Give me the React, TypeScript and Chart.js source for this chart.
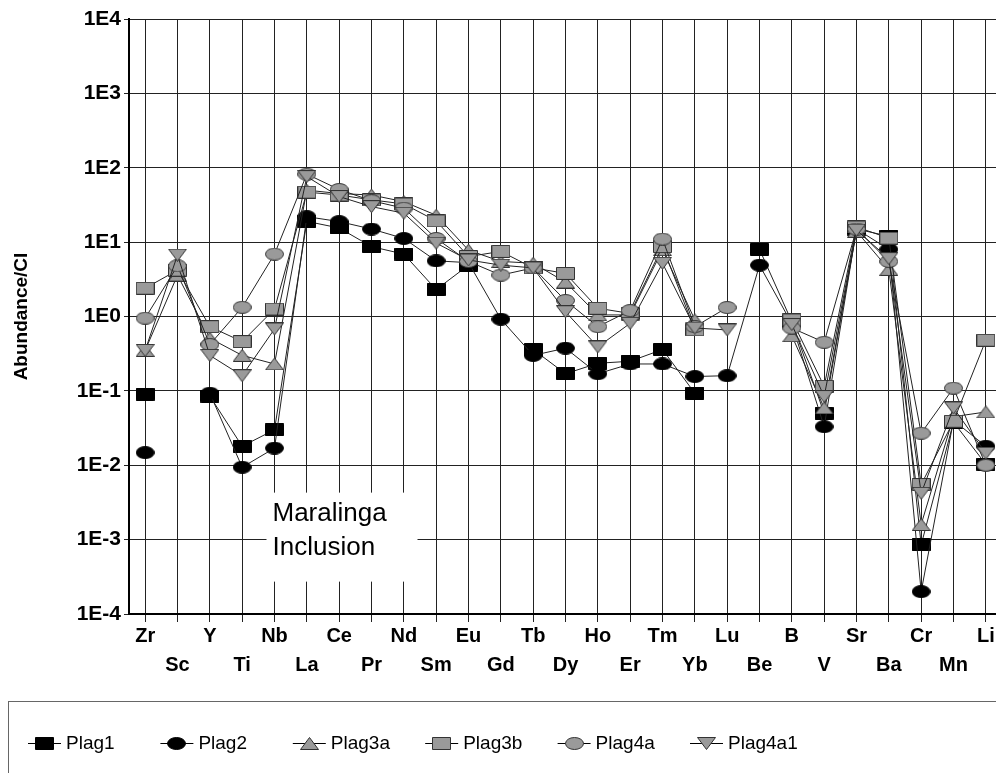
import React, { useEffect, useRef } from 'react';
import { Chart, registerables } from 'chart.js';

Chart.register(...registerables);

// Element order along the x axis
const elements = [
  'Zr', 'Sc', 'Y', 'Ti', 'Nb', 'La', 'Ce', 'Pr', 'Nd', 'Sm', 'Eu', 'Gd', 'Tb', 'Dy',
  'Ho', 'Er', 'Tm', 'Yb', 'Lu', 'Be', 'B', 'V', 'Sr', 'Ba', 'Cr', 'Mn', 'Li',
];

// CI-normalised abundances per plagioclase analysis (null = not determined)
const plag1 = [0.09, null, 0.085, 0.018, 0.03, 19, 15.5, 8.7, 6.9, 2.3, 4.9, null, 0.36, 0.17,
  0.235, 0.25, 0.36, 0.093, null, 8.0, 0.85, 0.05, 15, 12, 0.00085, 0.038, 0.0103];
const plag2 = [0.0148, null, 0.093, 0.0094, 0.017, 22, 18.9, 15, 11.2, 5.6, 5.3, 0.92, 0.3, 0.375,
  0.17, 0.23, 0.23, 0.156, 0.16, 4.9, 0.8, 0.033, 15, 8, 0.0002, 0.04, 0.018];
const plag3a = [0.35, 3.6, 0.51, 0.3, 0.23, 50, 45, 43, 35, 23, 7.8, 5.5, 5.2, 2.9,
  1.05, 1.05, 7.9, 0.9, null, null, 0.55, 0.059, 14, 4.3, 0.0016, 0.045, 0.052];
const plag3b = [2.4, 4.2, 0.73, 0.46, 1.26, 47, 43, 37, 32.6, 19.3, 6.4, 7.5, 4.5, 3.8,
  1.29, 1.1, 8.7, 0.66, null, null, 0.9, 0.115, 16, 11.3, 0.0055, 0.039, 0.48];
const plag4a = [0.95, 4.8, 0.42, 1.33, 6.9, 82, 51, 36, 28.6, 11.2, 5.5, 3.6, 4.5, 1.64,
  0.73, 1.2, 11, 0.73, 1.32, null, 0.7, 0.45, 15, 5.5, 0.027, 0.109, 0.01];
const plag4a1 = [0.35, 6.7, 0.3, 0.16, 0.68, 76, 41, 30, 24.5, 9.7, 5.75, 4.9, 4.5, 1.16,
  0.39, 0.81, 5.2, 0.7, 0.66, null, 0.78, 0.084, 14.5, 6.0, 0.0042, 0.059, 0.0145];

const seriesNames = ['Plag1', 'Plag2', 'Plag3a', 'Plag3b', 'Plag4a', 'Plag4a1'];
const seriesValues = [plag1, plag2, plag3a, plag3b, plag4a, plag4a1];
const seriesShapes = ['square', 'circle', 'up', 'square', 'circle', 'down'];
const seriesFills = ['#000000', '#000000', '#9a9a9a', '#9a9a9a', '#9a9a9a', '#9a9a9a'];

const yTickValues = [1e-4, 1e-3, 1e-2, 1e-1, 1, 10, 100, 1000, 10000];
const yTickLabels = ['1E-4', '1E-3', '1E-2', '1E-1', '1E0', '1E1', '1E2', '1E3', '1E4'];
const yTitle = 'Abundance/CI';
const noteLines = ['Maralinga', 'Inclusion'];

const FONT = 'Arial, "Liberation Sans", sans-serif';

function makeMarker(shape: string, fill: string, stroke: string): HTMLCanvasElement {
  const w = 19;
  const h = 13;
  const c = document.createElement('canvas');
  c.width = w;
  c.height = h;
  const ctx = c.getContext('2d')!;
  ctx.fillStyle = fill;
  ctx.strokeStyle = stroke;
  ctx.lineWidth = 1;
  ctx.beginPath();
  if (shape === 'square') {
    ctx.rect(0.5, 0.5, w - 1, h - 1);
  } else if (shape === 'circle') {
    ctx.ellipse(w / 2, h / 2, w / 2 - 0.5, h / 2 - 0.5, 0, 0, Math.PI * 2);
  } else if (shape === 'up') {
    ctx.moveTo(w / 2, 0.5);
    ctx.lineTo(w - 0.5, h - 0.5);
    ctx.lineTo(0.5, h - 0.5);
    ctx.closePath();
  } else {
    ctx.moveTo(0.5, 0.5);
    ctx.lineTo(w - 0.5, 0.5);
    ctx.lineTo(w / 2, h - 0.5);
    ctx.closePath();
  }
  ctx.fill();
  ctx.stroke();
  return c;
}

// White label box with the sample name, drawn over the grid
const notePlugin = {
  id: 'sampleNote',
  beforeDatasetsDraw(chart: any) {
    const { ctx } = chart;
    const xs = chart.scales.x;
    const ys = chart.scales.y;
    const px = xs.getPixelForValue(4);
    const py = ys.getPixelForValue(1e-3);
    ctx.save();
    ctx.fillStyle = '#ffffff';
    ctx.fillRect(px - 8, py - 47, 151, 89);
    ctx.fillStyle = '#000000';
    ctx.font = `26px ${FONT}`;
    ctx.textBaseline = 'middle';
    ctx.textAlign = 'left';
    ctx.fillText(noteLines[0], px - 2, py - 26);
    ctx.fillText(noteLines[1], px - 2, py + 8);
    ctx.restore();
  },
};

// Boxed legend below the axis: line segment + marker + name, in equal slots
const legendPlugin = {
  id: 'boxedLegend',
  afterDraw(chart: any) {
    const { ctx } = chart;
    const top = chart.chartArea.bottom + 87;
    ctx.save();
    ctx.strokeStyle = '#666666';
    ctx.lineWidth = 1;
    ctx.strokeRect(8.5, top + 0.5, chart.width + 20, 300);
    const cy = top + 42;
    const slot = 132.4;
    ctx.font = `19px ${FONT}`;
    ctx.textBaseline = 'middle';
    ctx.textAlign = 'left';
    chart.data.datasets.forEach((ds: any, i: number) => {
      const x = 28 + i * slot;
      ctx.strokeStyle = '#000000';
      ctx.beginPath();
      ctx.moveTo(x, cy + 0.5);
      ctx.lineTo(x + 33, cy + 0.5);
      ctx.stroke();
      const img = ds.pointStyle as HTMLCanvasElement;
      ctx.drawImage(img, Math.round(x + 16.5 - img.width / 2), Math.round(cy - img.height / 2));
      ctx.fillStyle = '#000000';
      ctx.fillText(ds.label, x + 38, cy + 1);
    });
    ctx.restore();
  },
};

export default function App() {
  const canvasRef = useRef<HTMLCanvasElement | null>(null);

  useEffect(() => {
    const canvas = canvasRef.current;
    if (!canvas) return;

    const datasets = seriesNames.map((name, i) => ({
      label: name,
      data: seriesValues[i],
      borderColor: '#222222',
      borderWidth: 1,
      pointStyle: makeMarker(seriesShapes[i], seriesFills[i], i < 2 ? '#000000' : '#333333'),
      pointRadius: 7,
      pointHoverRadius: 7,
      spanGaps: false,
      tension: 0,
      fill: false,
      order: seriesNames.length - i,
    }));

    const chart = new Chart(canvas, {
      type: 'line',
      data: { labels: elements, datasets },
      options: {
        animation: false,
        responsive: false,
        devicePixelRatio: 1,
        layout: { padding: { left: 0, right: 16, top: 19, bottom: 0 } },
        plugins: {
          legend: { display: false },
          tooltip: { enabled: false },
        },
        scales: {
          x: {
            type: 'category',
            offset: true,
            afterFit: (s: any) => {
              s.height = 159;
            },
            grid: { color: '#222222', lineWidth: 1, tickLength: 8, offset: false },
            border: { color: '#000000', width: 2 },
            ticks: {
              autoSkip: false,
              maxRotation: 0,
              minRotation: 0,
              padding: 0,
              color: '#000000',
              font: { family: FONT, size: 20, weight: 'bold', lineHeight: 1.45 },
              callback: (_v: any, i: number) => (i % 2 === 0 ? [elements[i]] : ['', elements[i]]),
            },
          },
          y: {
            type: 'logarithmic',
            min: 1e-4,
            max: 1e4,
            afterFit: (s: any) => {
              s.width = 129;
            },
            afterBuildTicks: (s: any) => {
              s.ticks = yTickValues.map((v) => ({ value: v }));
            },
            grid: { color: '#222222', lineWidth: 1, tickLength: 5 },
            border: { color: '#000000', width: 2 },
            ticks: {
              padding: 3,
              color: '#000000',
              font: { family: FONT, size: 21, weight: 'bold', lineHeight: 1 },
              callback: (_v: any, i: number) => yTickLabels[i],
            },
            title: {
              display: true,
              text: yTitle,
              color: '#000000',
              font: { family: FONT, size: 19, weight: 'bold', lineHeight: 1.2 },
              padding: { top: 10.6, bottom: 0 },
            },
          },
        },
      },
      plugins: [notePlugin, legendPlugin],
    } as any);

    return () => {
      chart.destroy();
    };
  }, []);

  return (
    <div style={{ position: 'fixed', left: 0, top: 0, width: 996, height: 773, overflow: 'hidden' }}>
      <canvas ref={canvasRef} width={1018} height={773} style={{ display: 'block' }} />
    </div>
  );
}
